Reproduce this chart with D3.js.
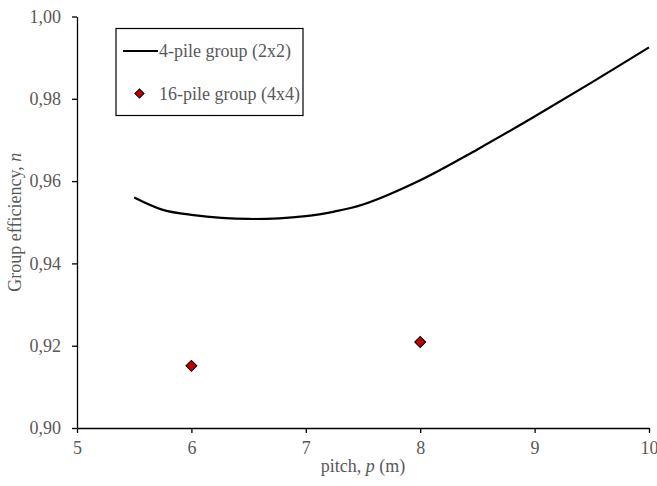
<!DOCTYPE html>
<html>
<head>
<meta charset="utf-8">
<script src="https://cdn.jsdelivr.net/npm/d3@7"></script>
<style>
body { margin: 0; background: #fff; }
svg text { font-family: "Liberation Serif", "Times New Roman", "DejaVu Serif", serif !important; }
</style>
</head>
<body>
<svg width="657" height="486"></svg>
<script>
var svg = d3.select('svg');

// 4-pile group (2x2) curve
var pitch4 = [5.5, 5.75, 6, 6.5, 7, 7.25, 7.5, 8, 8.5, 9, 9.5, 10];
var eff4 = [0.956, 0.953, 0.9518, 0.9508, 0.9515, 0.9526, 0.9543, 0.9602, 0.9677, 0.9757, 0.984, 0.9925];

// 16-pile group (4x4) points
var pitch16 = [6, 8];
var eff16 = [0.9151, 0.9209];

var xTicks = [5, 6, 7, 8, 9, 10];
var yTicks = [0.90, 0.92, 0.94, 0.96, 0.98, 1.00];

var x = d3.scaleLinear().domain([5, 10]).range([77, 649]);
var y = d3.scaleLinear().domain([0.90, 1.00]).range([428, 16.5]);

var fmt = function (d) { return d.toFixed(2).replace('.', ','); };

var xAxis = svg.append('g')
    .attr('transform', 'translate(0,' + y(0.90) + ')')
    .call(d3.axisBottom(x).tickValues(xTicks).tickFormat(d3.format('d')).tickSize(5).tickPadding(8).tickSizeOuter(0));

var yAxis = svg.append('g')
    .attr('transform', 'translate(' + x(5) + ',0)')
    .call(d3.axisLeft(y).tickValues(yTicks).tickFormat(fmt).tickSize(5).tickPadding(11).tickSizeOuter(0));

[xAxis, yAxis].forEach(function (a) {
    a.attr('font-family', 'Liberation Serif, serif').attr('font-size', 18);
    a.select('.domain').attr('stroke', '#000').attr('stroke-width', 1.3);
    a.selectAll('.tick line').attr('stroke', '#000').attr('stroke-width', 1.3);
    a.selectAll('.tick text').attr('fill', '#595959');
});

// axis titles
svg.append('text')
    .attr('x', x(7.5)).attr('y', 472)
    .attr('text-anchor', 'middle')
    .attr('fill', '#595959')
    .attr('font-size', 18)
    .html('pitch, <tspan font-style="italic">p</tspan> (m)');

svg.append('text')
    .attr('transform', 'translate(21,' + y(0.95) + ') rotate(-90)')
    .attr('text-anchor', 'middle')
    .attr('fill', '#595959')
    .attr('font-size', 18)
    .html('Group efficiency, <tspan font-style="italic">n</tspan>');

// line
var line = d3.line()
    .x(function (d, i) { return x(pitch4[i]); })
    .y(function (d) { return y(d); })
    .curve(d3.curveCatmullRom.alpha(0.5));

svg.append('path')
    .datum(eff4)
    .attr('d', line)
    .attr('fill', 'none')
    .attr('stroke', '#000')
    .attr('stroke-width', 2.2);

// diamonds
var diamond = d3.symbol().type(d3.symbolSquare).size(60);
svg.selectAll('.pt')
    .data(eff16)
    .enter()
    .append('path')
    .attr('class', 'pt')
    .attr('d', diamond)
    .attr('transform', function (d, i) {
        return 'translate(' + x(pitch16[i]) + ',' + y(d) + ') rotate(45)';
    })
    .attr('fill', '#c00000')
    .attr('stroke', '#000')
    .attr('stroke-width', 1);

// legend
var lg = svg.append('g');
lg.append('rect')
    .attr('x', 116).attr('y', 28.5)
    .attr('width', 187).attr('height', 87)
    .attr('fill', '#fff')
    .attr('stroke', '#000')
    .attr('stroke-width', 1.2);
lg.append('line')
    .attr('x1', 123).attr('x2', 158)
    .attr('y1', 51).attr('y2', 51)
    .attr('stroke', '#000').attr('stroke-width', 2.2);
lg.append('text')
    .attr('x', 159).attr('y', 57)
    .attr('fill', '#595959')
    .attr('font-size', 18)
    .text('4-pile group (2x2)');
lg.append('path')
    .attr('d', d3.symbol().type(d3.symbolSquare).size(42))
    .attr('transform', 'translate(139.5,93.5) rotate(45)')
    .attr('fill', '#c00000')
    .attr('stroke', '#000')
    .attr('stroke-width', 1);
lg.append('text')
    .attr('x', 159).attr('y', 100)
    .attr('fill', '#595959')
    .attr('font-size', 18)
    .text('16-pile group (4x4)');
</script>
</body>
</html>
